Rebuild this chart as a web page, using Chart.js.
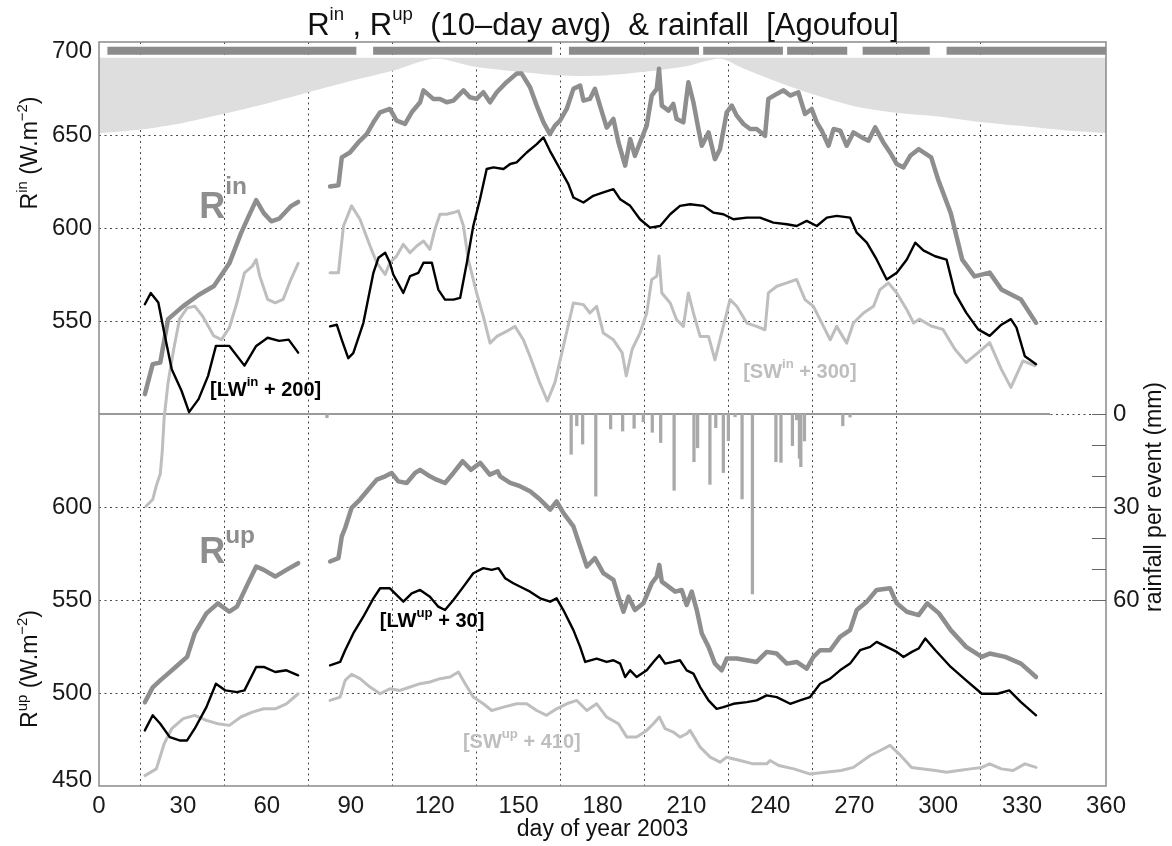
<!DOCTYPE html>
<html>
<head>
<meta charset="utf-8">
<title>Rin, Rup (10-day avg) & rainfall [Agoufou]</title>
<script src="https://cdn.jsdelivr.net/npm/chart.js@4.4.0/dist/chart.umd.min.js"></script>
<style>
  html, body { margin: 0; padding: 0; background: #fff; }
  #wrap { width: 1172px; height: 846px; }
</style>
</head>
<body>
<div id="wrap"><canvas id="radChart" width="1172" height="846"></canvas></div>
<script>
// values, [day of year 2003, value]; null = data gap
const rinSeries = [[16.4,510.7],[19.2,526.8],[21.9,527.7],[24.7,551],[30.1,558],[35.6,564],[41.1,568.8],[46.6,581],[50.7,597],[53.4,606],[56.2,615],[58.9,608],[61.6,603.6],[64.4,605],[68.5,611.6],[71.2,614],[77,null],
  [82.6,622.3],[85.6,623],[86.8,638],[89.7,640.6],[92.7,646],[95.7,650.5],[98.1,656.8],[100.5,662.2],[104,664],[106.4,657.7],[109.4,656],[111.8,662.2],[114.8,667.6],[116,674],[119.5,669.4],[121.9,669.4],[124.3,667.6],[126.7,668.5],[130.3,674],[132.6,670.3],[135,669.4],[137.4,673],[139.8,667.6],[142.2,673],[145.7,678.4],[149.3,683],[151.1,683],[154.1,675.7],[156.5,665.8],[158.9,656.8],[161.2,650.5],[163,655],[164.8,657.7],[167.2,664],[169.6,674.8],[172,676.6],[173.2,668.5],[175.5,669.4],[177.3,674.8],[179.1,665.8],[181.5,654],[183.9,658.6],[185.7,646],
  [188.1,633.5],[189.9,647.8],[191.6,638.8],[193.4,646],[195.8,655],[197.6,671.2],[199.4,674.8],[200.2,685.6],[201.2,665.8],[203.6,663.1],[205.3,666.7],[206.5,658.6],[208.9,656.8],[210.7,678.4],[212.5,667.6],[214.3,653.2],[215.5,644.2],[217.9,651.4],[220.2,637],[222,642.4],[224.4,662.2],[226.2,665.8],[228,660.4],[230.4,655.9],[232.8,653.2],[235.1,653.2],[238.1,649.6],[239.3,669.4],[242.3,672.1],[244.7,674],[247.1,671.2],[250,673],[252.4,661.3],[254.8,664],[256.6,656.8],[258.4,652.3],[260.8,644.2],[262.6,653.2],[265,652.3],[267.3,644.2],[269.7,651.4],[272.7,648.7],[275.1,646.9],[277.5,654.1],[280.4,646],[282.8,640.6],[285.2,634.4],[287.6,632.6],[290,638.8],[293,642.4],[297.5,638],[300,626],[304.5,608],[308.6,583],[313,574],[318.4,576],[322.6,567],[329.6,561.6],[335,549]];

const lwInSeries = [[16.4,559],[18.5,565],[21.2,560],[23.3,543.8],[26,524],[29.5,512.5],[32.2,501],[35.6,508],[39,520.5],[41.8,536.6],[46.6,536.6],[52,526],[56.2,536.6],[60.3,541],[64.4,539.3],[67.8,540],[71.2,533],[77,null],
  [82.6,547.1],[85,548],[86.8,539.9],[89.1,530],[90.9,532.7],[94.5,548.9],[98.1,575.9],[99.9,584],[102.3,586.7],[104,581.3],[105.2,575],[108.8,565.1],[111.2,574.1],[114.2,575.9],[116,581.3],[119,581.3],[121.3,566.9],[123.7,561.5],[126.7,561.5],[129.1,562.4],[131.5,581.3],[133.8,601.1],[136.2,615.5],[138.6,631.7],[141,632.6],[144.6,631.7],[147,634.4],[149.3,635.3],[152.9,640.6],[156.5,645.1],[158.9,648.7],[161.2,641.5],[164.8,631.7],[167.8,623.6],[169.6,616.4],[173.2,613.7],[176.7,617.3],[180.3,619.1],[183.9,620.9],
  [186.3,615.5],[189.9,611.9],[193.4,604.7],[197,600.2],[200.6,601.1],[204.2,607.4],[207.7,611.9],[211.3,612.8],[216.1,611.9],[219.6,608.3],[223.2,607.4],[226.8,604.7],[231.6,605.6],[236.3,605.6],[241.1,602.9],[245.9,602],[249.4,601.1],[253,603.8],[256.6,601.1],[260.2,605.6],[263.7,606.5],[268.5,605.6],[270.9,597.5],[274.5,592.1],[278,583.1],[281.6,572.3],[285.2,575.9],[288.8,583.1],[291.8,592.1],[294.7,588],[298.9,584.8],[303,583],[306,565],[310,554.5],[314.3,545.5],[318.4,542],[322.6,548],[326,551],[328,546.4],[331,531],[335,526.8]];

const swInSeries = [[16.8,450.4],[19.2,454],[20.5,461.5],[21.9,467.7],[22.6,479.7],[23.3,498],[24.7,517],[26.7,534.8],[28.8,551],[31.5,557],[34.2,558],[37,552.7],[41,542],[43.8,540],[46.6,546.4],[49.3,559.8],[52,575.9],[54.8,579.5],[56.2,583],[57.5,574],[60.3,561.6],[63,559.8],[65.8,561.6],[68.5,572],[71.2,581],[77,null],
  [82.6,575.9],[85.6,575.9],[87.4,601.1],[90.3,611.9],[93.3,604.7],[96.9,590.3],[99.3,581.3],[102.3,575],[104,581.3],[106.4,584.9],[108.8,591.2],[111.2,586.7],[113.6,590.3],[116,593],[118.3,588.5],[120.1,599.3],[121.9,607.4],[124.3,607.4],[126.7,608.3],[128.5,609.2],[130.3,601.1],[132,583.1],[135,565.1],[137.4,552.5],[139.8,538.1],[142.2,541.7],[145.7,544.4],[148.7,547.1],[151.7,539.9],[154.1,530.9],[157.5,517],[160.3,507],[163,517],[166,536.3],[169.6,559.7],[173.2,558.8],[175.5,554.3],[177.9,557.9],[180.3,543.5],[183.9,539.9],
  [187,533],[188.5,520.5],[190.6,534.8],[193.4,543.5],[195.8,554.3],[197.6,572.3],[199.4,574.1],[200.2,584.9],[201.2,565.1],[204.2,559.7],[206.5,550.7],[208.9,547.1],[210.7,565.1],[212.5,554.3],[214.9,541.7],[217.9,541.7],[220.2,529.1],[223.2,547.1],[225.6,561.5],[228,557.9],[231.6,548.9],[235.1,547.1],[238.1,545.3],[239.3,565.1],[242.3,568.7],[245.9,570.5],[249.4,572.3],[252.4,561.5],[255.4,557.9],[259,547.1],[261.4,539.9],[263.7,547.1],[267.3,538.1],[269.7,548.9],[273.3,554.3],[276.9,557.9],[279.2,566.9],[282.2,570.5],[285.2,565.1],[288.8,556.1],[291.2,548.9],[293.3,551],[297.5,547.3],[301.7,545.5],[306,534.8],[310,527.7],[314.3,533],[318.4,538.4],[322.6,524],[326,514.3],[330.3,528.6],[334.5,526]];

const rupSeries = [[16.4,495],[19.2,503],[21.9,506.8],[24.7,510.4],[27.4,514],[31.5,519.4],[34.2,532],[38.4,542.8],[42.5,548.2],[46.6,543.7],[49.3,546.4],[52.7,557.2],[56.2,568],[58.9,566.2],[63,562.6],[67,566.2],[71.2,569.8],[77,null],
  [82.6,570.7],[85.6,572.5],[86.8,584.2],[88,588.7],[90.3,599.5],[93.3,604],[96.3,609.4],[99.3,614.7],[102.3,616.5],[104.6,618.3],[107,613.8],[110,612.9],[113,618.3],[114.8,620],[118.3,616.5],[120.7,614.7],[123.7,612.9],[126.7,618.3],[130,624.6],[133,620],[136.3,623.7],[139.7,617.4],[142.5,619.2],[143.4,616.5],[147,613],[150.5,611.2],[154.1,608.5],[157.7,604],[161.3,598.6],[163.6,603],[166,596.8],[169.6,589.6],[172,578.8],[174.4,568],[177.3,572.5],[180.3,564.4],[183.9,560.8],[185.7,551.8],
  [187.5,543.7],[189.3,551.8],[191.6,544.6],[194.6,548.2],[197.6,559],[199.4,562.6],[200.3,568.9],[201.2,559.9],[203.6,557.2],[206,554.5],[208.3,555.4],[210.1,547.3],[211.9,554.5],[213.7,544.6],[215.5,532],[217.9,524.8],[220.2,515.8],[222.6,512.2],[224.4,518.5],[228,518.5],[231.6,517.6],[235.1,516.7],[238.7,522.1],[242.3,521.2],[245.9,515.8],[249.4,516.7],[253,513.1],[255.4,519.4],[257.8,523],[261.4,523],[264.9,530.2],[268.5,533.8],[270.9,544.6],[274.5,549.1],[278,555.4],[282.8,556.3],[285.2,548.2],[288.8,543.7],[293,541.9],[296.1,548.2],[300.3,542.8],[304.5,533.8],[310,524.8],[315.6,519.4],[318.4,521.2],[324,519.4],[329.6,515.8],[335,508.6]];

const lwUpSeries = [[16.4,479.9],[19.2,488],[21.9,483.5],[25.3,476.3],[28.8,474.5],[31.5,474.5],[34.2,480.8],[38.4,492.4],[41.8,505],[45.2,501.4],[49.3,500.5],[52,501.4],[56.2,514],[58.9,514],[63,511.3],[67,512.2],[71.2,509.5],[77,null],
  [82.6,514.9],[86.2,516.7],[88,523],[90.9,532],[94.5,541],[98.1,550.9],[100.5,556.3],[104,556.3],[108.8,549.1],[111.8,553.6],[114.8,555.4],[118.3,551.8],[121.3,546.4],[123.7,544.6],[126.7,550],[130.3,557.2],[133.8,564.4],[137.4,567.1],[140.4,566.2],[142.8,567.1],[145.2,561.7],[148.1,559],[151.7,556.3],[154.1,554.5],[157.7,550.9],[161.3,549.1],[163.6,550.9],[166,544.6],[169.6,533.8],[172,524.8],[173.8,516.7],[177.9,518.5],[181.5,516.7],[183.9,517.6],
  [186.3,515.8],[188.1,508.6],[189.9,512.2],[192.2,508.6],[195.8,512.2],[198.2,516.7],[200.3,520.3],[202.4,515.8],[205.3,516.7],[207.7,517.6],[210.1,512.2],[212.5,510.4],[214.9,503.2],[217.9,496],[220.8,491.5],[223.2,492.4],[226.8,494.2],[231.6,495.1],[235.1,496],[238.7,498.7],[242.3,497.8],[247.1,494.2],[250.6,496],[254.2,497.8],[257.8,505],[261.4,507.7],[264.9,512.2],[268.5,515.8],[272.1,523],[275.7,524.8],[278,527.5],[281.6,524.8],[285.2,522.1],[287.6,519.4],[290.6,522.1],[293,523.9],[295.4,529.3],[299,523],[304.5,514],[310,506.8],[315.6,499.6],[321.2,499.6],[325.4,501.4],[329.6,495.1],[335,488]];

const swUpSeries = [[16.4,455.6],[20.5,459.2],[23.3,472.7],[26,480.8],[30.1,486.2],[34.2,488],[38.4,485.3],[42.5,483.5],[46.6,482.6],[50.7,487.1],[54.8,489.7],[58.9,491.5],[63,491.5],[67,494.2],[71.2,499.6],[77,null],
  [82.6,496],[86.2,497.8],[88,506.8],[90.3,510.1],[93.3,507.7],[96.9,503.2],[100.5,499.6],[104,502.3],[107.6,501.4],[111.2,503.2],[114.8,505],[118.3,505.9],[121.9,507.7],[125.5,508.6],[128.5,511.3],[130.9,505],[133.8,497.8],[137.4,494.2],[140.4,490.6],[144.6,492.4],[149.3,494.2],[152.9,494.2],[156.5,490.6],[160,488],[163.6,491.5],[167.2,494.2],[170.8,496],[174.4,490.6],[177.9,494.2],[181.5,487],[185.7,483.5],
  [188.7,476.3],[192.2,476.3],[195.8,479.9],[198.2,483.5],[200.3,487.1],[202.4,480.8],[205.3,479],[207.7,476.3],[210.1,478.1],[211.3,479.9],[214.9,470.9],[218.5,465.5],[222,462.8],[224.4,465.5],[229.2,463.7],[233.9,461.9],[238.7,461.9],[239.9,463.7],[243,461],[248.4,459.2],[254,456.5],[259.7,457.4],[265.3,458.3],[269.7,460],[275.7,466.4],[279.3,469.1],[282.8,471.8],[286,467.3],[290.5,460],[294.7,459.2],[299,458.3],[303,457.4],[307.3,458.3],[311.5,459.2],[315.6,460],[318.4,461.9],[322.6,459.2],[326.8,458.3],[331,461.9],[335,460]];

// upper envelope (light grey area, W.m-2)
const envelope = [[0,651],[15,653],[30,656.5],[45,661.5],[60,667],[75,673],[90,679],[105,684.5],[120,691],[135,686.5],[150,684],[165,682],[180,682],[195,684],[210,687],[222,691],[230,686],[240,680],[255,672],[270,665.5],[285,662],[300,660],[315,657],[330,654.8],[345,652.5],[360,651]];

// grey strip periods along the top [start day, end day]
const stripPeriods = [[3,92],[98,162],[168,214.5],[216,244.5],[246,267.5],[273,297],[303,360]];

// rainfall per event (mm)
const rainDays = [81.5,168.8,170.8,172.9,177.6,182.9,187.2,191.3,194.6,197.8,200.8,205.6,212.7,214,218.4,220.5,223.2,225,227.4,229.9,233.6,242,243.8,247.9,249.4,250.4,250.9,252.2,265.9,268.5];
const rainMm   = [1.2,13,3.8,9.7,26.5,4.8,5.5,4.6,2.5,5.9,9.2,24.6,15.4,10.9,22.7,4.4,18.9,8.6,0.9,27.4,58,15.4,15.6,10.2,1.9,14.3,17,8.7,3.8,1];

// ticks
const dayTicks = [0,30,60,90,120,150,180,210,240,270,300,330,360];
const rinTicks = [500,550,600,650,700];
const rinLabels = [550,600,650,700];
const rupTicks = [450,500,550,600];
const rainTicks = [0,30,60];
const rainMinorTicks = [0,10,20,30,40,50,60];

const FONT = '"Liberation Sans", Arimo, Arial, sans-serif';
Chart.defaults.font.family = FONT;

const DARK = '#8e8e8e', LIGHT = '#bebebe', GRID = '#4a4a4a', INK = '#1a1a1a';
const STRIP_LEVEL = 695.3, FILL_TOP = 691.5, RAIN_BASE_END = 340;

const toPts = arr => arr.map(p => ({ x: p[0], y: p[1] }));
const lineDs = (label, arr, axis, color, width) => ({
  type: 'line', label, data: toPts(arr), yAxisID: axis,
  borderColor: color, borderWidth: width, pointRadius: 0, fill: false,
  tension: 0, spanGaps: false, borderJoinStyle: 'round', borderCapStyle: 'round'
});

const stripPts = [];
stripPeriods.forEach(([a, b]) => {
  stripPts.push({ x: a, y: STRIP_LEVEL }, { x: b, y: STRIP_LEVEL }, { x: b + 0.3, y: null });
});

function drawRich(ctx, parts, x, y, o) {
  const size = o.size, supSize = size * (o.supScale || 0.66);
  const weight = o.weight || 'normal';
  const fontFor = sup => `${weight} ${sup ? supSize : size}px ${FONT}`;
  let total = 0;
  parts.forEach(([t, sup]) => { ctx.font = fontFor(sup); total += ctx.measureText(t).width; });
  ctx.save();
  ctx.translate(x, y);
  if (o.rotate) ctx.rotate(o.rotate);
  ctx.fillStyle = o.color || '#111';
  ctx.textAlign = 'left';
  ctx.textBaseline = 'alphabetic';
  let cx = o.align === 'center' ? -total / 2 : 0;
  parts.forEach(([t, sup]) => {
    ctx.font = fontFor(sup);
    ctx.fillText(t, cx, sup ? -size * (o.rise || 0.45) : 0);
    cx += ctx.measureText(t).width;
  });
  ctx.restore();
}

const decorations = {
  id: 'decorations',
  afterDraw(chart) {
    const { ctx, chartArea: a, scales } = chart;
    const X = d => scales.x.getPixelForValue(d);
    const YI = v => scales.yin.getPixelForValue(v);
    const YU = v => scales.yup.getPixelForValue(v);

    ctx.save();
    // frame
    ctx.strokeStyle = '#8a8a8a';
    ctx.lineWidth = 1.5;
    ctx.strokeRect(a.left, a.top, a.right - a.left, a.bottom - a.top);
    // inward ticks of the rainfall axis
    ctx.strokeStyle = '#666';
    ctx.lineWidth = 1;
    rainMinorTicks.forEach(v => {
      const y = Math.round(scales.yr.getPixelForValue(v)) + 0.5;
      ctx.beginPath(); ctx.moveTo(a.right - 14, y); ctx.lineTo(a.right, y); ctx.stroke();
    });
    // left tick labels of both panels (kept inside the frame height like the original)
    ctx.font = `24px ${FONT}`;
    ctx.fillStyle = INK;
    ctx.textAlign = 'right';
    ctx.textBaseline = 'middle';
    rinLabels.forEach(v => ctx.fillText(String(v), a.left - 7, Math.max(YI(v), a.top + 9)));
    rupTicks.forEach(v => ctx.fillText(String(v), a.left - 7, Math.min(YU(v), a.bottom - 6)));
    ctx.restore();

    // titles
    drawRich(ctx, [['R'], ['in', 1], [' , R'], ['up', 1], ['  (10\u2013day avg)  & rainfall  [Agoufou]']],
      603, 35, { size: 31, align: 'center', color: '#111', supScale: 0.6, rise: 0.5 });
    drawRich(ctx, [['day of year 2003']], (a.left + a.right) / 2, 836, { size: 23, align: 'center' });
    drawRich(ctx, [['R'], ['in', 1], [' (W.m'], ['\u22122', 1], [')']], 37, 153,
      { size: 23, align: 'center', rotate: -Math.PI / 2, supScale: 0.65, rise: 0.45 });
    drawRich(ctx, [['R'], ['up', 1], [' (W.m'], ['\u22122', 1], [')']], 37, 669,
      { size: 23, align: 'center', rotate: -Math.PI / 2, supScale: 0.65, rise: 0.45 });
    drawRich(ctx, [['rainfall per event (mm)']], 1161, 497,
      { size: 23, align: 'center', rotate: -Math.PI / 2 });

    // panel and series labels, anchored in data coordinates
    drawRich(ctx, [['R'], ['in', 1]], X(35.8), YI(605.4), { size: 36, weight: 'bold', color: DARK, supScale: 0.68, rise: 0.66 });
    drawRich(ctx, [['R'], ['up', 1]], X(35.8), YU(569.9), { size: 36, weight: 'bold', color: DARK, supScale: 0.68, rise: 0.56 });
    drawRich(ctx, [['[LW'], ['in', 1], [' + 200]']], X(39.7), YI(509.5), { size: 20, weight: 'bold', color: '#000', supScale: 0.66, rise: 0.5 });
    drawRich(ctx, [['[SW'], ['in', 1], [' + 300]']], X(230.3), YI(519.6), { size: 20, weight: 'bold', color: LIGHT, supScale: 0.66, rise: 0.5 });
    drawRich(ctx, [['[LW'], ['up', 1], [' + 30]']], X(100.4), YU(535.5), { size: 20, weight: 'bold', color: '#000', supScale: 0.66, rise: 0.5 });
    drawRich(ctx, [['[SW'], ['up', 1], [' + 410]']], X(130.1), YU(470.5), { size: 20, weight: 'bold', color: LIGHT, supScale: 0.66, rise: 0.5 });
  }
};

const gridColor = hidden => c => (c.tick && hidden.includes(c.tick.value)) ? 'rgba(0,0,0,0)' : GRID;
const fixedTicks = list => s => { s.ticks = list.map(v => ({ value: v })); };

const ctx = document.getElementById('radChart').getContext('2d');
new Chart(ctx, {
  type: 'line',
  data: {
    datasets: [
      lineDs('LWin + 200', lwInSeries, 'yin', '#000', 2.4),
      lineDs('LWup + 30', lwUpSeries, 'yup', '#000', 2.4),
      lineDs('Rin', rinSeries, 'yin', DARK, 4.5),
      lineDs('Rup', rupSeries, 'yup', DARK, 4.5),
      lineDs('SWin + 300', swInSeries, 'yin', LIGHT, 3),
      lineDs('SWup + 410', swUpSeries, 'yup', LIGHT, 3),
      {
        type: 'bar', label: 'rainfall', yAxisID: 'yr',
        data: rainDays.map((d, i) => ({ x: d, y: rainMm[i] })),
        backgroundColor: '#a9a9a9', borderWidth: 0, barThickness: 2.6
      },
      {
        type: 'line', label: 'rain zero', yAxisID: 'yr',
        data: [{ x: 0, y: 0 }, { x: RAIN_BASE_END, y: 0 }],
        borderColor: '#9a9a9a', borderWidth: 2, pointRadius: 0, fill: false
      },
      {
        type: 'line', label: 'periods', yAxisID: 'yin', data: stripPts,
        borderColor: '#8c8c8c', borderWidth: 8, borderCapStyle: 'butt', pointRadius: 0, fill: false, spanGaps: false
      },
      {
        type: 'line', label: 'envelope', yAxisID: 'yin', data: toPts(envelope),
        borderWidth: 0, borderColor: 'rgba(0,0,0,0)', backgroundColor: '#dedede',
        pointRadius: 0, tension: 0.3, fill: { value: FILL_TOP }
      }
    ]
  },
  options: {
    responsive: false,
    animation: false,
    devicePixelRatio: 1,
    layout: { padding: { top: 42, left: 0, right: 0, bottom: 0 } },
    plugins: { legend: { display: false }, tooltip: { enabled: false } },
    scales: {
      x: {
        type: 'linear', min: 0, max: 360, offset: false,
        afterBuildTicks: fixedTicks(dayTicks),
        afterFit: s => { s.height = 60; },
        ticks: { font: { size: 24 }, color: INK, padding: 6, maxRotation: 0, autoSkip: false },
        grid: { color: gridColor([0, 360]), lineWidth: 1, drawTicks: false },
        border: { display: false, dash: [2, 3.5] }
      },
      yin: {
        position: 'left', weight: 1, min: 300, max: 700,
        afterBuildTicks: fixedTicks(rinTicks),
        afterFit: s => { s.width = 99; },
        ticks: { display: false },
        grid: { color: gridColor([700]), lineWidth: 1, drawTicks: false },
        border: { display: false, dash: [2, 3.5] }
      },
      yup: {
        position: 'left', weight: 2, min: 450, max: 850,
        afterBuildTicks: fixedTicks(rupTicks),
        afterFit: s => { s.width = 0; },
        ticks: { display: false },
        grid: { color: gridColor([450]), lineWidth: 1, drawTicks: false },
        border: { display: false, dash: [2, 3.5] }
      },
      yr: {
        position: 'right', min: -120, max: 120, reverse: true,
        afterBuildTicks: fixedTicks(rainTicks),
        afterFit: s => { s.width = 66; },
        ticks: { font: { size: 24 }, color: INK, padding: 7, autoSkip: false },
        grid: { display: false, drawTicks: false },
        border: { display: false }
      }
    }
  },
  plugins: [decorations]
});
</script>
</body>
</html>
